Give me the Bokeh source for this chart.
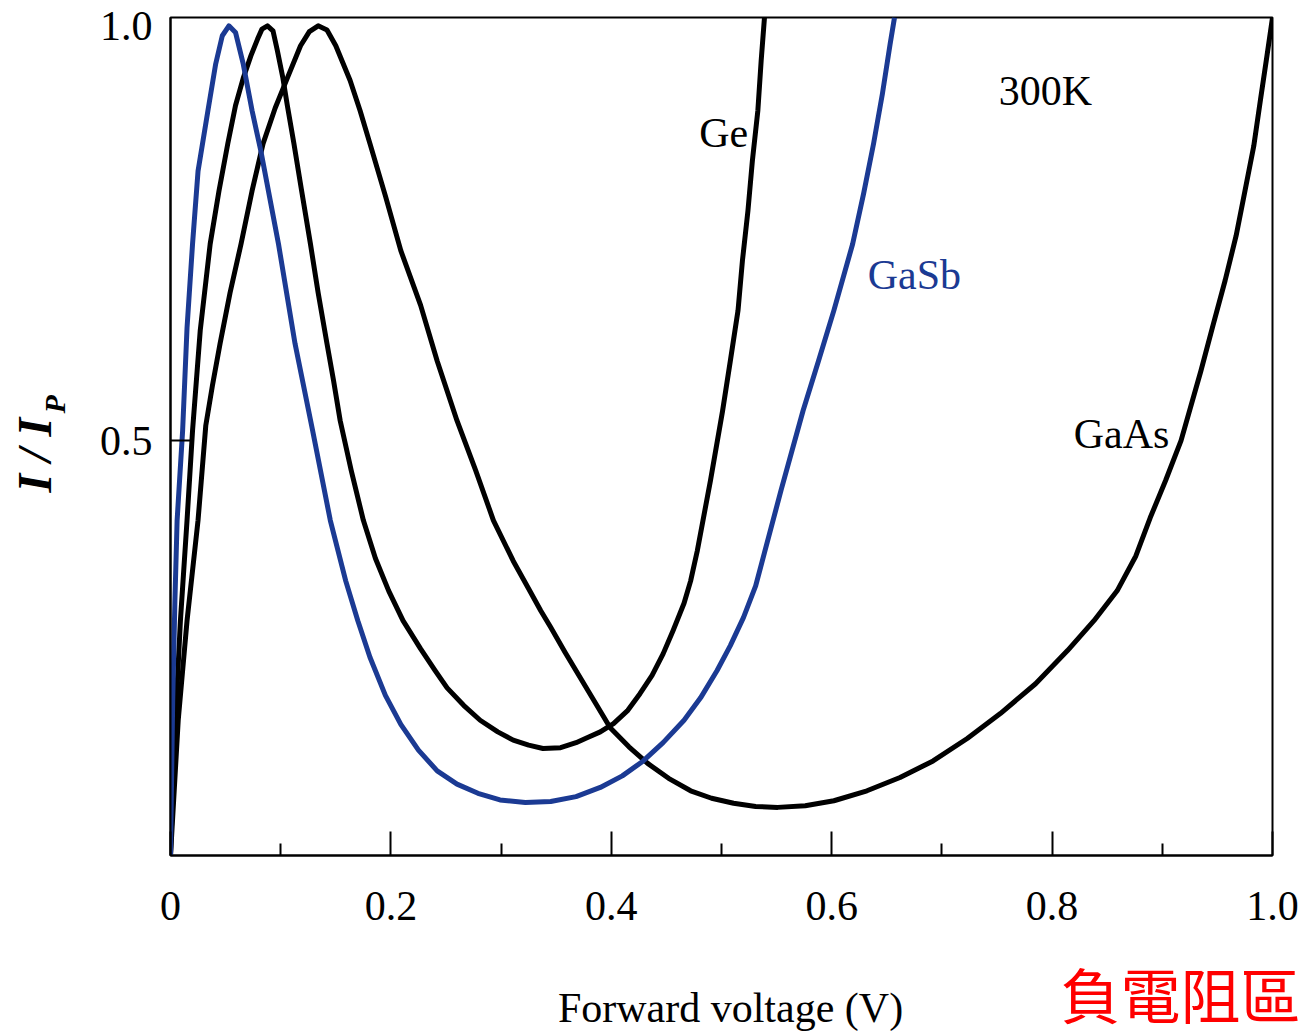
import math
from bokeh.plotting import figure
from bokeh.layouts import column, row
from bokeh.models import Range1d, FixedTicker
from bokeh.core.properties import value
from bokeh.embed import file_html
from bokeh.resources import INLINE

# ---- data ----
gasb_v = [0.000, 0.002, 0.004, 0.006, 0.011, 0.015, 0.020, 0.025, 0.034, 0.041, 0.047, 0.053,
          0.059, 0.066, 0.074, 0.082, 0.098, 0.113, 0.129, 0.145, 0.159, 0.170, 0.181, 0.195,
          0.209, 0.225, 0.242, 0.260, 0.279, 0.299, 0.322, 0.345, 0.368, 0.390, 0.410, 0.429,
          0.447, 0.466, 0.481, 0.496, 0.508, 0.520, 0.531, 0.539, 0.554, 0.574, 0.588, 0.602,
          0.619, 0.629, 0.638, 0.646, 0.653, 0.657]
gasb_i = [0.000, 0.187, 0.307, 0.404, 0.512, 0.636, 0.737, 0.825, 0.898, 0.954, 0.988, 1.000,
          0.992, 0.954, 0.898, 0.849, 0.737, 0.617, 0.512, 0.404, 0.331, 0.283, 0.239, 0.193,
          0.158, 0.127, 0.102, 0.086, 0.075, 0.067, 0.064, 0.065, 0.071, 0.082, 0.096, 0.114,
          0.136, 0.163, 0.190, 0.223, 0.253, 0.287, 0.325, 0.365, 0.440, 0.536, 0.596, 0.657,
          0.737, 0.798, 0.858, 0.918, 0.978, 1.010]

ge_v = [0.000, 0.004, 0.009, 0.015, 0.020, 0.027, 0.036, 0.044, 0.052, 0.059, 0.066, 0.073,
        0.079, 0.083, 0.088, 0.093, 0.097, 0.102, 0.106, 0.112, 0.119, 0.127, 0.134, 0.142,
        0.148, 0.154, 0.164, 0.175, 0.186, 0.198, 0.211, 0.227, 0.240, 0.251, 0.266, 0.281,
        0.297, 0.311, 0.325, 0.338, 0.354, 0.368, 0.378, 0.390, 0.402, 0.415, 0.426, 0.437,
        0.447, 0.456, 0.466, 0.472, 0.478, 0.490, 0.501, 0.508, 0.515, 0.519, 0.524, 0.528,
        0.533, 0.536, 0.539]
ge_i = [0.000, 0.151, 0.283, 0.404, 0.512, 0.633, 0.737, 0.801, 0.858, 0.904, 0.937, 0.964,
        0.984, 0.996, 1.000, 0.994, 0.970, 0.937, 0.904, 0.858, 0.801, 0.737, 0.678, 0.617,
        0.572, 0.524, 0.464, 0.404, 0.358, 0.319, 0.283, 0.249, 0.223, 0.202, 0.181, 0.163,
        0.149, 0.139, 0.133, 0.129, 0.130, 0.136, 0.142, 0.149, 0.159, 0.175, 0.195, 0.217,
        0.243, 0.271, 0.304, 0.331, 0.367, 0.452, 0.536, 0.596, 0.657, 0.717, 0.777, 0.837,
        0.898, 0.958, 1.010]

gaas_v = [0.000, 0.007, 0.015, 0.025, 0.032, 0.038, 0.045, 0.054, 0.064, 0.074, 0.084, 0.095,
          0.106, 0.118, 0.126, 0.134, 0.142, 0.150, 0.163, 0.172, 0.181, 0.195, 0.209, 0.227,
          0.242, 0.260, 0.277, 0.293, 0.311, 0.326, 0.336, 0.345, 0.358, 0.372, 0.386, 0.399,
          0.416, 0.433, 0.452, 0.472, 0.491, 0.511, 0.531, 0.551, 0.576, 0.602, 0.632, 0.662,
          0.692, 0.723, 0.753, 0.785, 0.814, 0.838, 0.859, 0.876, 0.889, 0.903, 0.917, 0.935,
          0.946, 0.957, 0.967, 0.975, 0.983, 0.989, 0.995, 1.000]
gaas_i = [0.000, 0.163, 0.283, 0.404, 0.518, 0.566, 0.617, 0.678, 0.737, 0.801, 0.858, 0.901,
          0.937, 0.976, 0.993, 1.000, 0.995, 0.976, 0.934, 0.898, 0.858, 0.795, 0.729, 0.663,
          0.596, 0.524, 0.464, 0.404, 0.355, 0.319, 0.295, 0.275, 0.245, 0.214, 0.183, 0.154,
          0.131, 0.111, 0.093, 0.078, 0.069, 0.063, 0.059, 0.058, 0.060, 0.066, 0.078, 0.094,
          0.114, 0.141, 0.171, 0.207, 0.247, 0.283, 0.319, 0.361, 0.407, 0.452, 0.500, 0.584,
          0.639, 0.693, 0.747, 0.801, 0.855, 0.910, 0.964, 1.010]

x_ticks = [0.0, 0.2, 0.4, 0.6, 0.8, 1.0]
x_tick_labels = ["0", "0.2", "0.4", "0.6", "0.8", "1.0"]
x_minor = [0.1, 0.3, 0.5, 0.7, 0.9]
y_ticks = [0.5, 1.0]
y_tick_labels = ["0.5", "1.0"]

BLUE = "#1b3a93"
SERIF = "Liberation Serif"

# ---------------- main plot ----------------
p = figure(width=1213, height=950, x_range=Range1d(0, 1), y_range=Range1d(0, 1.01),
           output_backend="svg", toolbar_location=None,
           min_border_left=80, min_border_right=31, min_border_top=17, min_border_bottom=95)
p.grid.visible = False
p.outline_line_color = "black"
p.outline_line_width = 2
p.background_fill_color = "white"
p.border_fill_color = "white"

xa = p.xaxis[0]
xa.ticker = FixedTicker(ticks=x_ticks, minor_ticks=x_minor)
xa.major_label_overrides = dict(zip(x_ticks, x_tick_labels))
xa.major_tick_in = 24
xa.major_tick_out = 0
xa.minor_tick_in = 12
xa.minor_tick_out = 0
xa.major_tick_line_width = 2
xa.minor_tick_line_width = 2
xa.axis_line_width = 2
xa.major_label_text_font = SERIF
xa.major_label_text_font_size = "42px"
xa.major_label_text_color = "black"
xa.major_label_standoff = 36

ya = p.yaxis[0]
ya.ticker = FixedTicker(ticks=y_ticks, minor_ticks=[0.5])
ya.major_label_overrides = dict(zip(y_ticks, y_tick_labels))
ya.major_tick_in = 0
ya.major_tick_out = 0
ya.minor_tick_in = 22
ya.minor_tick_out = 0
ya.minor_tick_line_width = 2
ya.axis_line_width = 2
ya.major_label_text_font = SERIF
ya.major_label_text_font_size = "42px"
ya.major_label_text_color = "black"
ya.major_label_standoff = 18

p.line(ge_v, ge_i, line_color="black", line_width=5, line_join="round")
p.line(gaas_v, gaas_i, line_color="black", line_width=5, line_join="round")
p.line(gasb_v, gasb_i, line_color=BLUE, line_width=5, line_join="round")

def txt(fig, x, y, text, color="black", size="42px", style="normal", font=SERIF,
        align="center", angle=0.0):
    fig.text(x=[x], y=[y], text=[text], text_color=color, text_font=value(font),
             text_font_size=size, text_font_style=style, text_align=align,
             text_baseline="middle", angle=angle)

txt(p, 0.502, 0.871, "Ge")
txt(p, 0.675, 0.700, "GaSb", color=BLUE)
txt(p, 0.794, 0.922, "300K")
txt(p, 0.863, 0.508, "GaAs")

# ---------------- left strip: y axis title  I / I_P ----------------
# (its frame is aligned with the main frame: pixel rows 17..855 of the page)
left = figure(width=90, height=950, x_range=Range1d(0, 90), y_range=Range1d(0, 838),
              output_backend="svg", toolbar_location=None, x_axis_type=None, y_axis_type=None,
              min_border=0, outline_line_color=None)
left.grid.visible = False
txt(left, 34, 363, "I / I", size="48px", style="bold italic", align="left", angle=math.pi / 2)
txt(left, 54, 442, "P", size="30px", style="bold italic", align="left", angle=math.pi / 2)

# ---------------- bottom strip: x axis title and red note ----------------
bottom = figure(width=1303, height=86, x_range=Range1d(0, 1303), y_range=Range1d(0, 86),
                output_backend="svg", toolbar_location=None, x_axis_type=None, y_axis_type=None,
                min_border=0, outline_line_color=None)
bottom.grid.visible = False
txt(bottom, 730, 29, "Forward voltage (V)")
txt(bottom, 1060, 44, "負電阻區", color="red", size="60px", font="Noto Sans CJK TC", align="left")

layout = column(row(left, p, spacing=0), bottom, spacing=0)

open("out.html", "w").write(file_html(layout, INLINE))
